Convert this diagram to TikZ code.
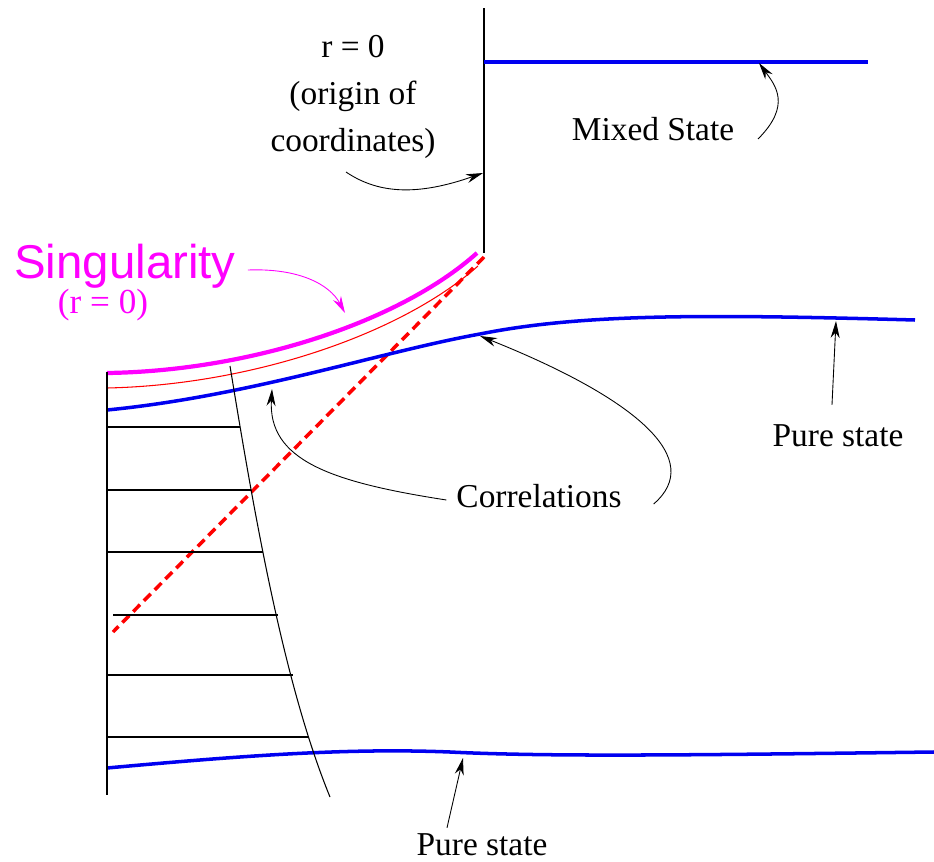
\documentclass[tikz,border=0pt]{standalone}
\usepackage{fontspec}
\setmainfont{Liberation Serif}
\newfontfamily\singfont{Liberation Sans}
\usepackage{xcolor}
\usetikzlibrary{arrows.meta, positioning}
\definecolor{stateblue}{RGB}{0,0,240}
\definecolor{singmagenta}{RGB}{255,0,255}
\definecolor{corred}{RGB}{255,0,0}
\tikzset{
  note/.style={inner sep=1pt, align=center, font=\fontsize{19}{27}\selectfont},
  arrow/.style={-{Stealth[length=3.4mm, width=1.8mm]}, line width=0.5pt},
  statecurve/.style={stateblue, line width=2pt},
  singcurve/.style={singmagenta, line width=2.4pt},
  thinline/.style={black, line width=0.6pt},
  rung/.style={black, line width=1.1pt},
}
\begin{document}
\begin{tikzpicture}[x=0.02cm, y=-0.02cm]
\useasboundingbox (0,0) rectangle (934,862);
% axis r = 0 and the mixed state
\draw[thinline] (484,8) -- (484,253);
\draw[statecurve] (484,62) -- (868,62);
\coordinate (mixtip) at (759,63);
\coordinate (origintip) at (483,173);
% singularity and the horizon
\draw[singcurve] (107,373) .. controls (250,371) and (400,322) .. (477,253);
\draw[corred, line width=0.6pt] (107,388) .. controls (250,385) and (400,335) .. (478,266);
\draw[corred, line width=2pt, dash pattern=on 5.5pt off 3.2pt] (484,257) -- (113,632);
\coordinate (singtip) at (345,313);
% pure states
\draw[statecurve] (107,410) .. controls (250,396) and (380,352) .. (480,334) .. controls (580,314) and (700,314) .. (915,320);
\draw[statecurve] (107,768) .. controls (250,755) and (350,748) .. (450,752) .. controls (550,757) and (700,755) .. (934,752);
\coordinate (cortipA) at (272,389);
\coordinate (cortipB) at (480,336);
\coordinate (puretipA) at (836,321);
\coordinate (puretipB) at (463,758);
% collapsing shell
\draw[thinline] (107,372) -- (107,795);
\draw[thinline] (230,366) .. controls (252,500) and (282,680) .. (330,797);
\draw[rung] (107,427) -- (240,427);
\draw[rung] (107,490) -- (251,490);
\draw[rung] (107,552) -- (263,552);
\draw[rung] (113,615) -- (278,615);
\draw[rung] (107,675) -- (293,675);
\draw[rung] (107,737) -- (308,737);
% labels
\node (origin) [note] at (353,97) {r = 0\\(origin of\\coordinates)};
\node (mixed) [note] at (653,129) {Mixed State};
\node (sing) [note, singmagenta, font=\singfont\fontsize{27}{30}\selectfont] at (125,266) {Singularity};
\node (singr) [note, singmagenta, font=\fontsize{20}{22}\selectfont] at (103,305) {(r = 0)};
\node (corr) [note] at (539,496) {Correlations};
\node (pureA) [note] at (838,436) {Pure state};
\node (pureB) [note] at (482,845) {Pure state};
% pointers
\draw[arrow] (346,172) .. controls (380,195) and (420,195) .. (origintip);
\draw[arrow] (758,139) .. controls (792,105) and (775,85) .. (mixtip);
\draw[arrow, singmagenta] (sing.east) ++(10,4) .. controls (300,268) and (330,285) .. (singtip);
\draw[arrow] (corr.west) ++(-8,4) .. controls (330,482) and (268,460) .. (cortipA);
\draw[arrow] (corr.east) ++(30,8) .. controls (705,460) and (640,400) .. (cortipB);
\draw[arrow] (pureA.north) ++(-6,-18) -- (puretipA);
\draw[arrow] (pureB.north) ++(-35,-4) -- (puretipB);
\end{tikzpicture}
\end{document}
